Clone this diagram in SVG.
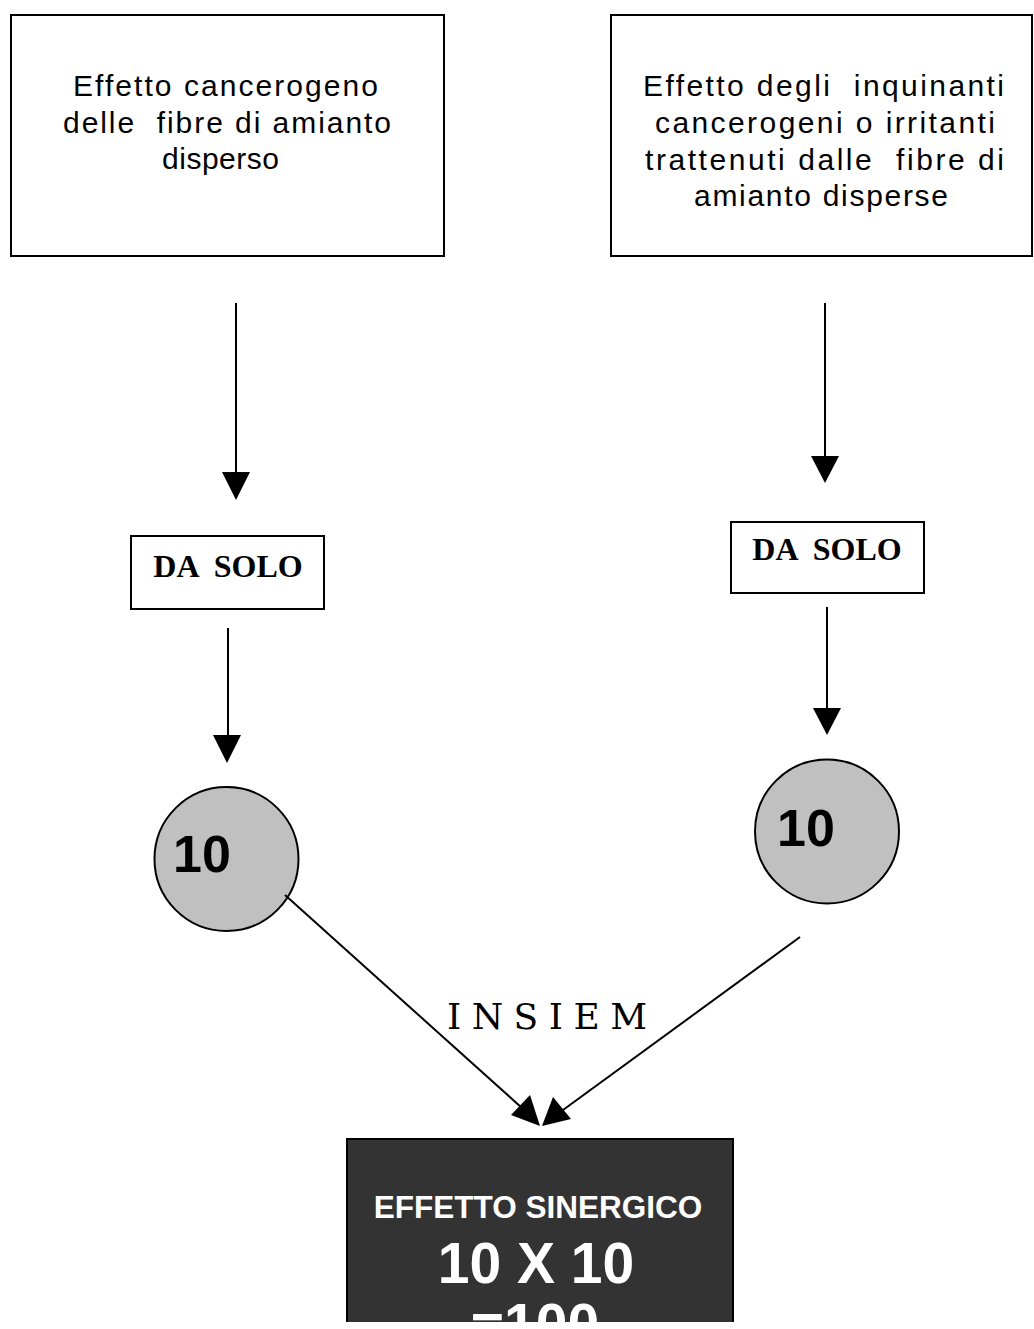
<svg xmlns="http://www.w3.org/2000/svg" width="1034" height="1329" viewBox="0 0 1034 1329">
<style>
.box{fill:#fff;stroke:#000;stroke-width:2}
.t1{font-family:"Liberation Sans",Arial,sans-serif;font-size:30px;fill:#000}
.ds{font-family:"Liberation Serif","Times New Roman",serif;font-weight:bold;font-size:32px;fill:#000;text-anchor:middle}
.circ{fill:#c0c0c0;stroke:#000;stroke-width:2}
.num{font-family:"Liberation Sans",Arial,sans-serif;font-weight:bold;font-size:52px;fill:#000}
.conn line{stroke:#000;stroke-width:2;fill:none}
.head{fill:#000}
.wt{font-family:"Liberation Sans",Arial,sans-serif;font-weight:bold;fill:#fff;text-anchor:middle}
</style>
<defs>
<clipPath id="clipBottom"><rect x="0" y="0" width="1034" height="1322"/></clipPath>
</defs>
<rect width="1034" height="1329" fill="#fff"/>

<g id="box-left">
<rect class="box" x="11" y="15" width="433" height="241"/>
<text class="t1" x="73" y="96" textLength="305" lengthAdjust="spacing">Effetto cancerogeno</text>
<text class="t1" x="63" y="133" textLength="328" lengthAdjust="spacing" xml:space="preserve">delle  fibre di amianto</text>
<text class="t1" x="162" y="169" textLength="117" lengthAdjust="spacing">disperso</text>
</g>

<g id="box-right">
<rect class="box" x="611" y="15" width="421" height="241"/>
<text class="t1" x="643" y="96" textLength="361" lengthAdjust="spacing" xml:space="preserve">Effetto degli  inquinanti</text>
<text class="t1" x="655" y="133" textLength="340" lengthAdjust="spacing">cancerogeni o irritanti</text>
<text class="t1" x="645" y="170" textLength="359" lengthAdjust="spacing" xml:space="preserve">trattenuti dalle  fibre di</text>
<text class="t1" x="694" y="206" textLength="254" lengthAdjust="spacing">amianto disperse</text>
</g>

<g id="dasolo-left">
<rect class="box" x="131" y="536" width="193" height="73"/>
<text class="ds" x="228" y="577" xml:space="preserve">DA  SOLO</text>
</g>

<g id="dasolo-right">
<rect class="box" x="731" y="522" width="193" height="71"/>
<text class="ds" x="827" y="560" xml:space="preserve">DA  SOLO</text>
</g>

<g id="circle-left">
<circle class="circ" cx="226.5" cy="859" r="72"/>
<text class="num" x="173" y="872">10</text>
</g>

<g id="circle-right">
<circle class="circ" cx="827" cy="831.5" r="72"/>
<text class="num" x="777" y="846">10</text>
</g>

<g id="insieme">
<text x="547" y="1029" font-family="'DejaVu Serif',serif" font-size="36" fill="#000" text-anchor="middle" textLength="200" lengthAdjust="spacing">INSIEM</text>
</g>

<g id="effetto-sinergico" clip-path="url(#clipBottom)">
<rect x="347" y="1139" width="386" height="200" fill="#333333" stroke="#000" stroke-width="2"/>
<text class="wt" x="538" y="1218" font-size="31.5">EFFETTO SINERGICO</text>
<text class="wt" x="536" y="1283" font-size="57">10 X 10</text>
<text class="wt" x="535" y="1344" font-size="57">=100</text>
</g>

<g id="connectors" class="conn">
<line x1="236" y1="303" x2="236" y2="474"/>
<polygon class="head" points="222,472 250,472 236,500"/>
<line x1="825" y1="303" x2="825" y2="458"/>
<polygon class="head" points="811,456 839,456 825,483"/>
<line x1="228" y1="628" x2="228" y2="737"/>
<polygon class="head" points="213,735 241,735 227,763"/>
<line x1="827" y1="607" x2="827" y2="710"/>
<polygon class="head" points="813,708 841,708 827,735"/>
<line x1="285" y1="895" x2="522" y2="1108"/>
<polygon class="head" points="540,1126 511,1115 530,1095"/>
<line x1="800" y1="937" x2="563" y2="1110"/>
<polygon class="head" points="542,1126 553,1097 571,1119"/>
</g>
</svg>
